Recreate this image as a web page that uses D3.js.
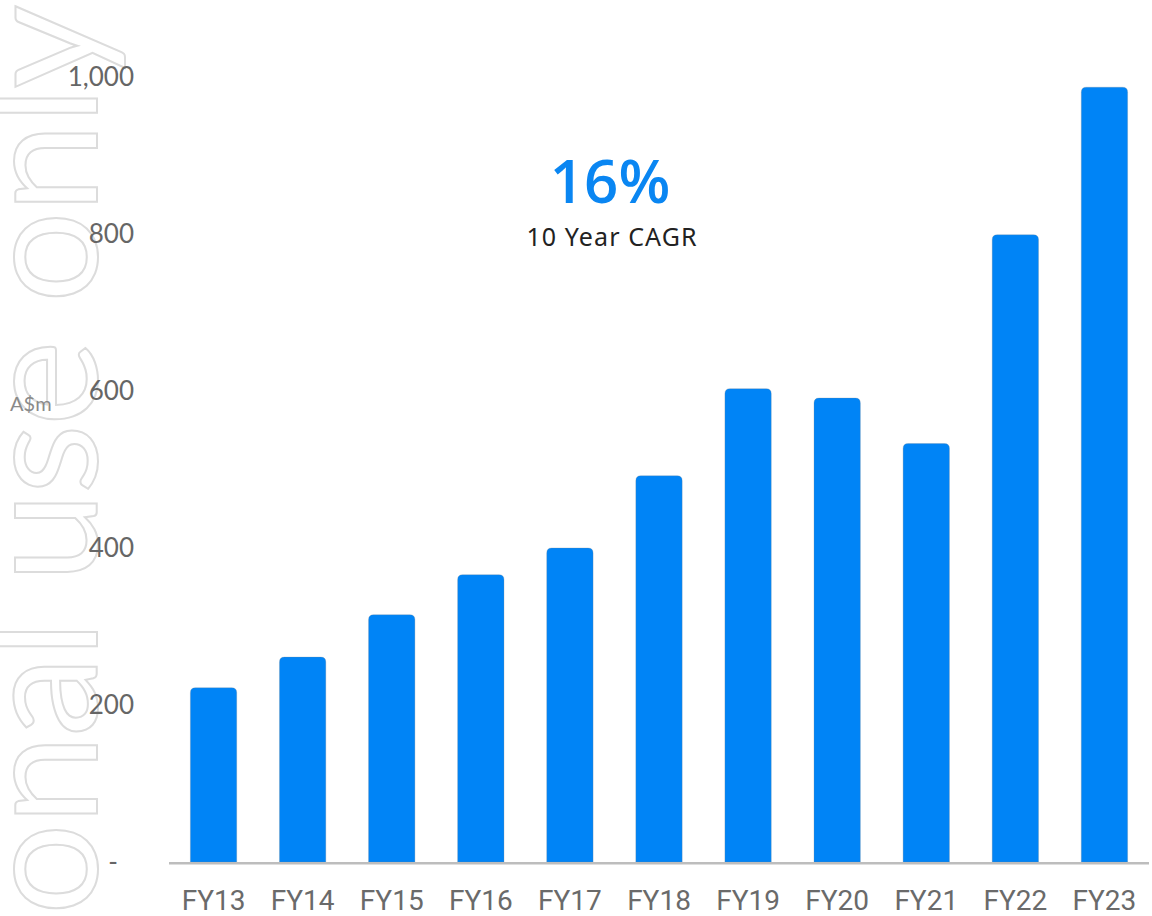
<!DOCTYPE html>
<html>
<head>
<meta charset="utf-8">
<script src="https://cdn.jsdelivr.net/npm/d3@7"></script>
<style>
  html, body { margin: 0; padding: 0; background: #fff; }
  svg { display: block; }
</style>
</head>
<body>
<script>
const categories = ["FY13","FY14","FY15","FY16","FY17","FY18","FY19","FY20","FY21","FY22","FY23"];
const values = [222, 261, 315, 366, 400, 492, 603, 591, 533, 799, 987];
const tickValues = [0, 200, 400, 600, 800, 1000];
const tickLabels = ["-", "200", "400", "600", "800", "1,000"];
const unitLabel = "A$m";
const headline = "16%";
const subline = "10 Year CAGR";
const watermark = "For personal use only";

const W = 1152, H = 916;
const svg = d3.select("body").append("svg").attr("width", W).attr("height", H);

// watermark (outlined, rotated, runs off the bottom edge as in the reference)
svg.append("text")
  .attr("transform", "translate(97,7) rotate(-90)")
  .attr("text-anchor", "end")
  .attr("font-family", "Lato, sans-serif")
  .attr("font-weight", 400)
  .attr("font-size", 162)
  .attr("letter-spacing", -2)
  .attr("fill", "none")
  .attr("stroke", "#dcdcdc")
  .attr("stroke-width", 2)
  .text(watermark);

const x = d3.scaleBand().domain(categories).range([169, 1149]).paddingInner(0.48).paddingOuter(0.24);
const y = d3.scaleLinear().domain([0, 1000]).range([862, 77]);

// y labels
const yg = svg.append("g");
yg.selectAll("text").data(tickValues).join("text")
  .attr("x", (d, i) => tickLabels[i] === "-" ? 118 : 134)
  .attr("y", d => y(d))
  .attr("dy", "0.35em")
  .attr("text-anchor", "end")
  .attr("font-family", "Lato, sans-serif")
  .attr("font-size", 26)
  .attr("fill", "#666")
  .text((d, i) => tickLabels[i]);

svg.append("text")
  .attr("x", 10).attr("y", 411)
  .attr("font-family", "Lato, sans-serif")
  .attr("font-size", 20)
  .attr("fill", "#8a8a8a")
  .text(unitLabel);

// bars with rounded top
const r = 5;
function barPath(x0, w, yTop, yBase) {
  return `M${x0},${yBase} L${x0},${yTop + r} Q${x0},${yTop} ${x0 + r},${yTop} L${x0 + w - r},${yTop} Q${x0 + w},${yTop} ${x0 + w},${yTop + r} L${x0 + w},${yBase} Z`;
}
svg.append("g").selectAll("path").data(values).join("path")
  .attr("d", (d, i) => barPath(x(categories[i]), x.bandwidth(), y(d), y(0)))
  .attr("fill", "#0084f6")
  .attr("stroke", "rgba(110,130,150,0.35)")
  .attr("stroke-width", 0.8);

// baseline axis
const xAxis = d3.axisBottom(x).tickSize(0).tickPadding(0);
const xg = svg.append("g").attr("transform", `translate(0,${y(0)})`).call(xAxis);
xg.select(".domain").attr("stroke", "#bdbdbd").attr("stroke-width", 2.5).attr("d", "M169,1.2H1149");
xg.selectAll(".tick text")
  .attr("y", 48)
  .attr("dy", 0)
  .attr("font-family", "Roboto, sans-serif")
  .attr("font-size", 28)
  .attr("fill", "#6a6a6a");

// annotation
svg.append("text")
  .attr("x", 610).attr("y", 203)
  .attr("text-anchor", "middle")
  .attr("font-family", "'Open Sans', sans-serif")
  .attr("font-weight", 600)
  .attr("font-size", 60)
  .attr("fill", "#0a86f2")
  .text(headline);
svg.append("text")
  .attr("x", 612).attr("y", 246)
  .attr("text-anchor", "middle")
  .attr("font-family", "'Noto Sans', sans-serif")
  .attr("font-size", 25)
  .attr("letter-spacing", 1.1)
  .attr("fill", "#222")
  .text(subline);
</script>
</body>
</html>
